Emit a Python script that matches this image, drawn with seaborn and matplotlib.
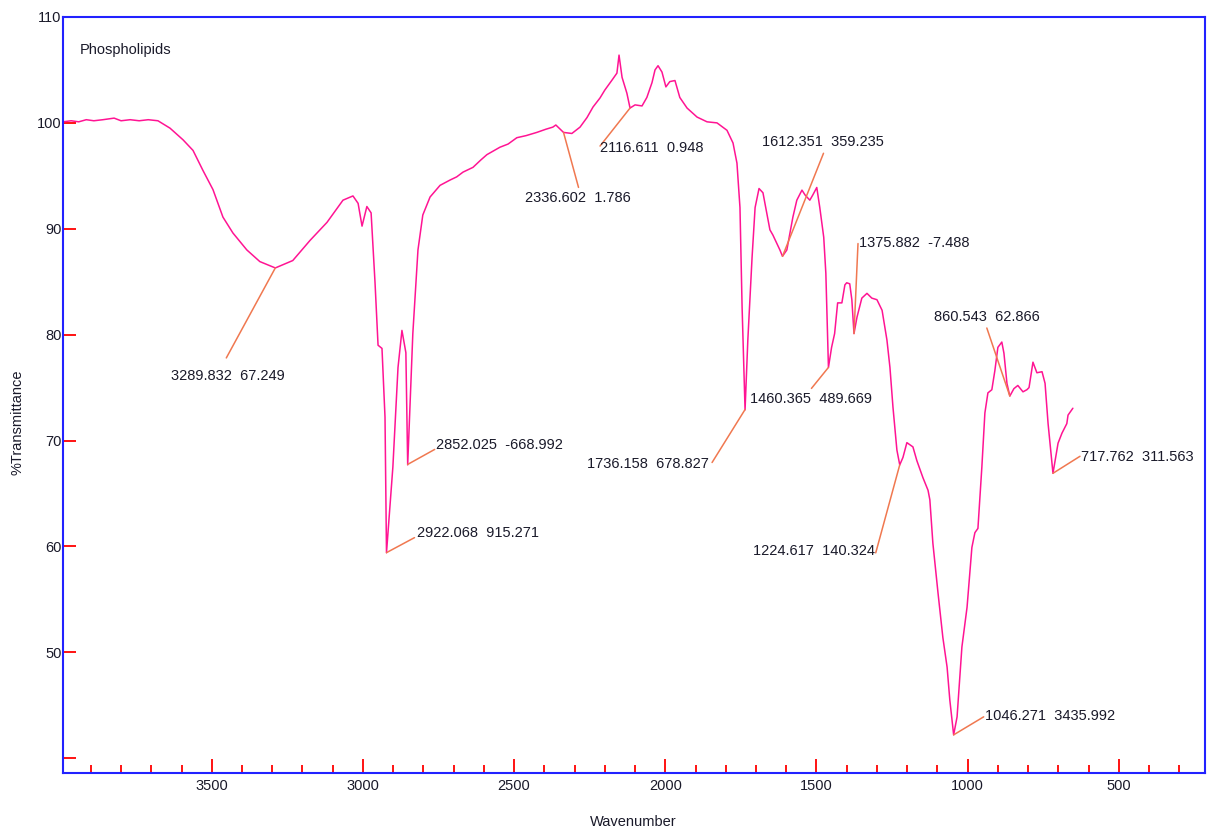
import matplotlib
matplotlib.use("Agg")
import matplotlib.pyplot as plt
import numpy as np
import seaborn as sns

# spectrum (wavenumber, %T)
wavenumber = [3992, 3965, 3940, 3915, 3890, 3860, 3823, 3800, 3770, 3740, 3710, 3678,
              3638, 3595, 3562, 3529, 3496, 3463, 3430, 3384, 3341, 3289.8, 3232, 3175,
              3119, 3066, 3033, 3016, 3003, 2987, 2973, 2960, 2950, 2937, 2927, 2922.1,
              2901, 2884, 2871, 2858, 2852.0, 2835, 2818, 2802, 2778, 2745, 2712, 2690,
              2669, 2636, 2610, 2590, 2547, 2520, 2491, 2460, 2425, 2395, 2372, 2362,
              2336.6, 2309, 2282, 2259, 2239, 2216, 2200, 2176, 2160, 2153, 2143, 2127,
              2116.6, 2100, 2077, 2061, 2044, 2034, 2024, 2011, 1998, 1985, 1968, 1952,
              1928, 1895, 1862, 1829, 1796, 1776, 1763, 1753, 1746, 1736.2, 1727, 1713,
              1703, 1690, 1677, 1654, 1644, 1621, 1612.4, 1598, 1578, 1565, 1548, 1538,
              1522, 1512, 1499, 1489, 1476, 1469, 1463, 1460.4, 1450, 1440, 1430, 1416,
              1406, 1400, 1390, 1383, 1375.9, 1366, 1350, 1333, 1317, 1300, 1283, 1267,
              1257, 1247, 1234, 1224.6, 1214, 1201, 1181, 1168, 1148, 1131, 1125, 1115,
              1098, 1082, 1068, 1059, 1046.3, 1035, 1019, 1002, 986, 976, 966, 953,
              943, 933, 920, 910, 900, 887, 880, 870, 860.5, 847, 834, 817, 804, 797,
              784, 771, 754, 744, 734, 717.8, 701, 688, 672, 668, 652]
transmittance = [100.1, 100.2, 100.1, 100.3, 100.2, 100.3, 100.45, 100.2, 100.3, 100.2, 100.3, 100.2,
                 99.5, 98.4, 97.4, 95.5, 93.7, 91.1, 89.6, 88.0, 86.9, 86.3, 87.0, 88.9,
                 90.6, 92.7, 93.1, 92.4, 90.25, 92.1, 91.5, 84.9, 79.0, 78.7, 72.2, 59.4,
                 67.5, 76.9, 80.4, 78.3, 67.7, 80.1, 88.0, 91.3, 93.0, 94.1, 94.6, 94.9,
                 95.35, 95.8, 96.5, 97.0, 97.7, 98.0, 98.6, 98.8, 99.1, 99.4, 99.6, 99.8,
                 99.1, 99.0, 99.6, 100.5, 101.5, 102.35, 103.1, 104.05, 104.7, 106.4, 104.3, 102.8,
                 101.4, 101.7, 101.6, 102.4, 103.8, 105.0, 105.4, 104.8, 103.4, 103.9, 104.0, 102.4,
                 101.4, 100.55, 100.1, 100.0, 99.3, 98.1, 96.2, 92.0, 82.6, 72.9, 79.5, 87.3,
                 92.0, 93.8, 93.4, 89.9, 89.4, 88.0, 87.4, 88.0, 91.1, 92.7, 93.65, 93.2,
                 92.7, 93.2, 93.9, 92.0, 89.2, 85.8, 79.5, 76.9, 78.8, 80.1, 83.0, 83.0,
                 84.7, 84.9, 84.8, 83.3, 80.1, 81.65, 83.45, 83.9, 83.45, 83.3, 82.3, 79.5,
                 76.9, 73.15, 69.1, 67.7, 68.4, 69.8, 69.4, 68.1, 66.5, 65.3, 64.4, 60.3,
                 55.6, 51.4, 48.6, 45.5, 42.2, 43.9, 50.5, 54.25, 59.9, 61.3, 61.7, 67.5,
                 72.6, 74.5, 74.8, 76.6, 78.8, 79.3, 78.25, 75.4, 74.2, 74.9, 75.2, 74.6, 74.8, 75.0,
                 77.4, 76.4, 76.5, 75.4, 71.6, 66.9, 69.75, 70.7, 71.6, 72.4, 73.05]

# peak labels as printed in the chart
peak_wn = [3289.832, 2922.068, 2852.025, 2336.602, 2116.611, 1736.158, 1612.351,
           1460.365, 1375.882, 1224.617, 1046.271, 860.543, 717.762]
peak_val = ["67.249", "915.271", "-668.992", "1.786", "0.948", "678.827", "359.235",
            "489.669", "-7.488", "140.324", "3435.992", "62.866", "311.563"]

# layout of leader lines / labels (pixel offsets from the peak)
line_end = [(-49, -90), (28, 15), (27, 15), (15, -55), (-30, -38), (-33, -53), (41, 103),
            (-17, -21), (4, 90), (-24, -88), (30, 18), (-23, 68), (27, 17)]
text_pos = [(-47, -108), (30, 20), (28, 19), (14, -66), (-30, -40), (-36, -54), (40, 114),
            (-17, -32), (5, 91), (-25, -86), (31, 19), (-23, 79), (28, 16)]
text_ha = ["center", "left", "left", "center", "left", "right", "center",
           "center", "left", "right", "left", "center", "left"]

sns.set_style("white")
plt.rcParams['font.family'] = ['Liberation Sans', 'DejaVu Sans']

fig = plt.figure(figsize=(12.08, 8.32), dpi=100)
ax = fig.add_axes([63 / 1208, 59 / 832, 1142 / 1208, 756 / 832])

wn = np.array(wavenumber)
tr = np.array(transmittance)
sns.lineplot(x=wn, y=tr, ax=ax, color="#ff1493", lw=1.1)

ax.set_xlim(3992, 215)
ax.set_ylim(38.6, 110)

# ticks
ax.set_xticks(np.arange(500, 3501, 500))
ax.set_xticks(np.arange(300, 3901, 100), minor=True)
yt = np.arange(40, 111, 10)
ax.set_yticks(yt)
ax.set_yticklabels([""] + [str(v) for v in yt[1:]])
ax.tick_params(axis="both", which="both", direction="in", color="red", width=1.3,
               labelcolor="#1a1a2a", labelsize=10.5, bottom=True, left=True,
               top=False, right=False)
ax.tick_params(axis="y", length=9, pad=1)
ax.tick_params(axis="x", which="major", length=10, pad=4)
ax.tick_params(axis="x", which="minor", length=6)

for sp in ax.spines.values():
    sp.set_color("#2222ff")
    sp.set_linewidth(1.5)
    sp.set_visible(True)

ax.set_xlabel("")
ax.set_ylabel("")
fig.text(633 / 1208, 1 - 822 / 832, "Wavenumber", ha="center", va="center",
         fontsize=10.5, color="#1a1a2a")
fig.text(18 / 1208, 1 - 422 / 832, "%Transmittance", ha="center", va="center",
         rotation=90, fontsize=10.5, color="#1a1a2a")

ax.text(0.0149, 0.956, "Phospholipids", transform=ax.transAxes, ha="left", va="center",
        fontsize=10.5, color="#1a1a2a")

# peak annotations
lead = "#f07850"
for w0, v, le, tp, ha in zip(peak_wn, peak_val, line_end, text_pos, text_ha):
    y0 = np.interp(w0, wn[::-1], tr[::-1])
    ax.annotate("", xy=(w0, y0), xytext=le, textcoords="offset pixels",
                arrowprops=dict(arrowstyle="-", color=lead, lw=1.1, shrinkA=0, shrinkB=0))
    ax.annotate("{:.3f}  {}".format(w0, v), xy=(w0, y0), xytext=tp,
                textcoords="offset pixels", ha=ha, va="center", fontsize=10.5,
                color="#1a1a2a")

fig.savefig("out.png", dpi=100)
